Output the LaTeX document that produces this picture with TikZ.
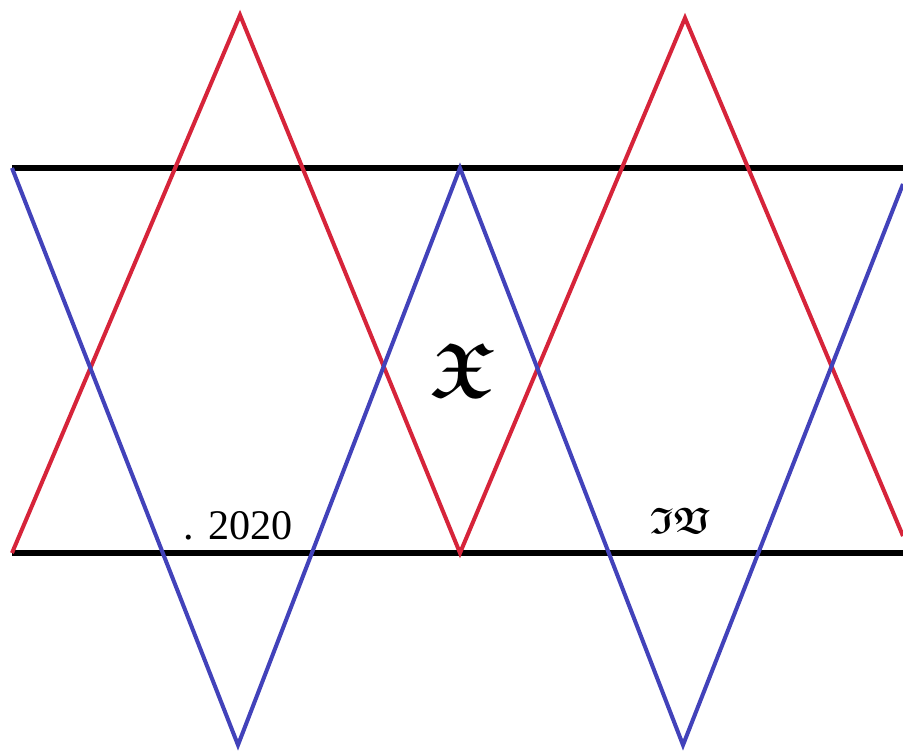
\documentclass[tikz,border=0pt]{standalone}
\usepackage{amsmath, amssymb, bm}
\usepackage{fontspec}
\usepackage{tikz}
\usetikzlibrary{positioning, calc}
\newfontfamily\yearfont{Liberation Serif}
\definecolor{StarRed}{RGB}{214, 36, 58}
\definecolor{StarBlue}{RGB}{66, 66, 186}

\begin{document}
\begin{tikzpicture}[x=0.02cm, y=-0.02cm,
	band/.style={line width=3pt, black},
	rz/.style={line width=2.3pt, StarRed, line join=miter},
	bz/.style={line width=2.3pt, StarBlue, line join=miter},
	lbl/.style={inner sep=0pt}]
	\useasboundingbox (0,0) rectangle (903,751);
	% vertices of the two zigzags
	\coordinate (r0) at (12,553);
	\coordinate (r1) at (240,15);
	\coordinate (r2) at (460,553);
	\coordinate (r3) at (685,18);
	\coordinate (r4) at (903,536);
	\coordinate (b0) at (12,168);
	\coordinate (b1) at (238,745);
	\coordinate (b2) at (460,168);
	\coordinate (b3) at (683,745);
	\coordinate (b4) at (903,184);
	% band edges
	\coordinate (tl) at (12,168); \coordinate (tr) at (903,168);
	\coordinate (bl) at (12,553); \coordinate (br) at (903,553);
	\draw[band] (tl) -- (tr);
	\draw[band] (bl) -- (br);
	\draw[rz] (r0) -- (r1) -- (r2) -- (r3) -- (r4);
	\draw[bz] (b0) -- (b1) -- (b2) -- (b3) -- (b4);
	% labels
	\node[lbl] (mid) at (462,370) {\scalebox{4.4}{$\bm{\mathfrak{X}}$}};
	\node[lbl] (year) at (238,526) {\yearfont\fontsize{24}{28}\selectfont . 2020};
	\node[lbl] (num) at (680,521) {\scalebox{2.1}{$\bm{\mathfrak{IV}}$}};
\end{tikzpicture}
\end{document}
